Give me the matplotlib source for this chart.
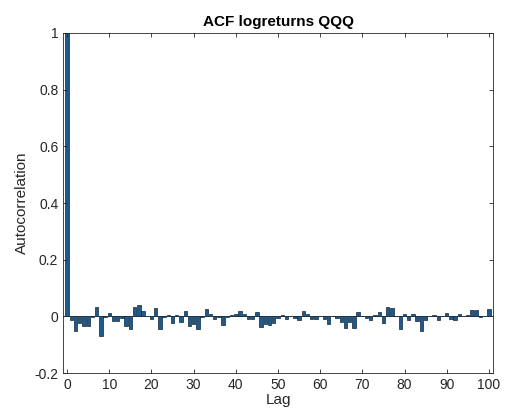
import numpy as np
import matplotlib.pyplot as plt

plt.rcParams['font.family'] = ['Liberation Sans', 'DejaVu Sans']

# ACF values, lag 0..100
lags = np.arange(0, 101)
acf = [1.0, -0.012, -0.05, -0.022, -0.033, -0.033, -0.003, 0.033, -0.07, -0.003,
       0.012, -0.015, -0.015, -0.005, -0.033, -0.043, 0.035, 0.042, 0.02, 0.0,
       -0.01, 0.028, -0.045, -0.003, 0.005, -0.022, 0.005, -0.018, 0.02, -0.035,
       -0.025, -0.043, -0.002, 0.026, 0.01, -0.008, -0.001, -0.03, -0.002, 0.006,
       0.01, 0.02, 0.01, -0.008, -0.01, 0.014, -0.038, -0.025, -0.03, -0.022,
       -0.005, 0.004, -0.01, 0.002, -0.005, -0.012, 0.02, 0.01, -0.01, -0.01,
       0.001, -0.008, -0.028, 0.002, -0.005, -0.018, -0.04, -0.018, -0.04, 0.014,
       0.003, -0.004, -0.012, 0.006, 0.014, -0.023, 0.033, 0.03, 0.0, -0.045,
       0.008, -0.012, 0.008, -0.016, -0.05, -0.012, 0.0, 0.006, -0.014, 0.001,
       0.012, -0.01, -0.013, 0.008, 0.0, 0.004, 0.022, 0.024, -0.003, 0.002,
       0.025]
xticks = np.arange(0, 101, 10)
yticks = [-0.2, 0, 0.2, 0.4, 0.6, 0.8, 1]
ytick_labels = ['-0.2', '0', '0.2', '0.4', '0.6', '0.8', '1']

fig = plt.figure(figsize=(5.05, 4.16), dpi=100)
ax = fig.add_axes([0.125, 0.103, 0.851, 0.818])

ax.bar(lags, acf, width=0.8, color='#1f5a8c', edgecolor='#10263a', linewidth=0.5)
ax.axhline(0, color='#333333', linewidth=0.6, zorder=0)

ax.set_xlim(-0.95, 100.95)
ax.set_ylim(-0.2, 1)
ax.set_xticks(xticks)
ax.set_yticks(yticks)
ax.set_yticklabels(ytick_labels)

ax.tick_params(direction='in', length=3, width=0.6, colors='#262626',
               labelsize=10, top=True, right=True, labeltop=False, labelright=False)
for s in ax.spines.values():
    s.set_color('#262626')
    s.set_linewidth(0.6)

ax.set_title('ACF logreturns QQQ', fontsize=11, fontweight='bold', color='black', pad=5)
ax.set_xlabel('Lag', fontsize=11, color='#262626', labelpad=1)
ax.set_ylabel('Autocorrelation', fontsize=11, color='#262626', labelpad=4)

fig.savefig('out.png', dpi=100)
